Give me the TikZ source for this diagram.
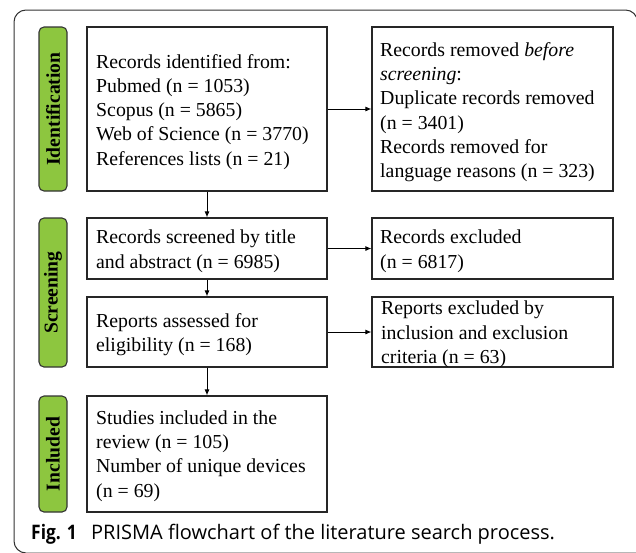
\documentclass[tikz,border=0pt]{standalone}
\usepackage{fontspec}
\setmainfont{Liberation Serif}
\newfontfamily\capfont{Open Sans}
\usetikzlibrary{arrows.meta}
\definecolor{labgreen}{RGB}{141,198,63}
\definecolor{frameclr}{RGB}{50,50,50}
\begin{document}
\begin{tikzpicture}[x=1pt,y=-1pt,
  box/.style={draw=black!85, line width=1.1pt, inner sep=0pt},
  lab/.style={draw=black!80, line width=1.1pt, fill=labgreen, rounded corners=5pt, inner sep=0pt},
  labtxt/.style={rotate=90, font=\bfseries\fontsize{19.6}{20}\selectfont, inner sep=0pt},
  arr/.style={-{Latex[length=6pt,width=5pt]}, line width=1pt},
  txt/.style={anchor=base west, inner sep=0pt, align=left, font=\fontsize{19.8}{24.2}\selectfont},
  captxt/.style={anchor=base west, inner sep=0pt, font=\capfont\fontsize{20}{24}\selectfont}
]
\useasboundingbox (0,0) rectangle (636,552);
\begin{scope}
\clip (0,0) rectangle (636,552);
\draw[frameclr, line width=1pt, rounded corners=12pt] (637.5,560) -- (637.5,10) -- (14,10) -- (14,553) -- (640,553);
\end{scope}

% labels
\draw[lab] (39,27) rectangle (67,191);
\node[labtxt] (lid) at (53,109) {Identification};
\draw[lab] (39,218) rectangle (67,367);
\node[labtxt] (lsc) at (53,292.5) {Screening};
\draw[lab] (39,396) rectangle (67,512);
\node[labtxt] (lin) at (53,454) {Included};

% boxes
\node[box, minimum width=240pt, minimum height=164pt] (b1) at (207,109) {};
\node[box, minimum width=241pt, minimum height=164pt] (b2) at (492.5,109) {};
\node[box, minimum width=240pt, minimum height=61pt] (b3) at (207,248.5) {};
\node[box, minimum width=241pt, minimum height=61pt] (b4) at (492.5,248.5) {};
\node[box, minimum width=240pt, minimum height=70pt] (b5) at (207,332) {};
\node[box, minimum width=241pt, minimum height=70pt] (b6) at (492.5,332) {};
\node[box, minimum width=240pt, minimum height=116pt] (b7) at (207,454) {};

% texts (anchor = baseline of last line)
\node[txt] (t1) at (96,165) {Records identified from:\\Pubmed (n = 1053)\\Scopus (n = 5865)\\Web of Science (n = 3770)\\References lists (n = 21)};
\node[txt] (t2) at (380,177.4) {Records removed \textit{before}\\\textit{screening}:\\Duplicate records removed\\(n = 3401)\\Records removed for\\language reasons (n = 323)};
\node[txt] (t3) at (96,268) {Records screened by title\\and abstract (n = 6985)};
\node[txt] (t4) at (380,268) {Records excluded\\(n = 6817)};
\node[txt] (t5) at (96,351.3) {Reports assessed for\\eligibility (n = 168)};
\node[txt] (t6) at (381,363.2) {Reports excluded by\\inclusion and exclusion\\criteria (n = 63)};
\node[txt] (t7) at (96,497) {Studies included in the\\review (n = 105)\\Number of unique devices\\(n = 69)};

% arrows
\draw[arr] (b1.south) -- (b3.north);
\draw[arr] (b3.south) -- (b5.north);
\draw[arr] (b5.south) -- (b7.north);
\draw[arr] (b1.east) -- (b2.west);
\draw[arr] (b3.east) -- (b4.west);
\draw[arr] (b5.east) -- (b6.west);

% caption
\node[captxt] (c1) at (31,539) {\scalebox{0.87}[1]{\bfseries Fig. 1}};
\node[captxt] (c2) at (91,539) {PRISMA flowchart of the literature search process.};
\end{tikzpicture}
\end{document}
